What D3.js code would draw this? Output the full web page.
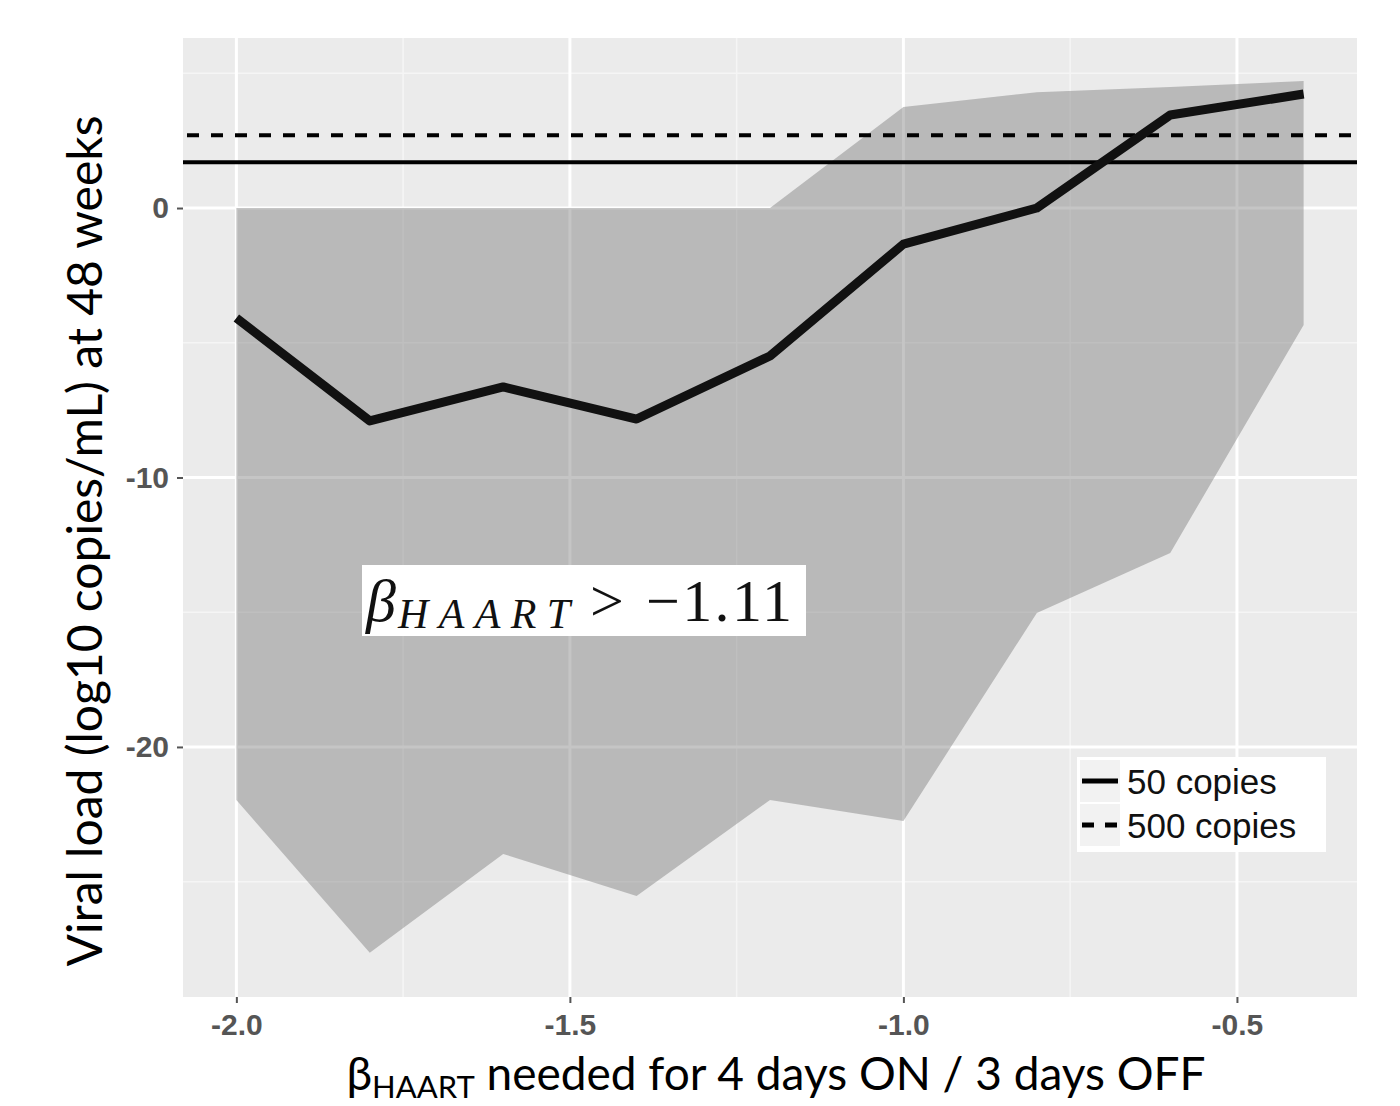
<!DOCTYPE html>
<html><head><meta charset="utf-8">
<script src="https://cdn.jsdelivr.net/npm/d3@7"></script>
<style>body{margin:0;background:#fff}</style>
</head><body>
<svg id="chart" width="1400" height="1106"></svg>
<script>
const betaValues = [-2.0, -1.8, -1.6, -1.4, -1.2, -1.0, -0.8, -0.6, -0.4];
const medianLoad = [-4.08, -7.9, -6.64, -7.83, -5.49, -1.34, 0.0, 3.45, 4.23];
const upperLoad  = [0, 0, 0, 0, 0, 3.75, 4.3, 4.49, 4.71];
const lowerLoad  = [-21.97, -27.64, -23.97, -25.53, -21.97, -22.75, -15.03, -12.8, -4.34];
const thresholdNames = ["50 copies", "500 copies"];
const thresholdValues = [Math.log10(50), Math.log10(500)];
const xTicks = [-2.0, -1.5, -1.0, -0.5];
const xMinor = [-1.75, -1.25, -0.75];
const yTicks = [0, -10, -20];
const yMinor = [5, -5, -15, -25];

const svg = d3.select("#chart");
const L = 183, R = 1357, T = 38, B = 997;
const x = d3.scaleLinear().domain([-2.08, -0.32]).range([L, R]);
const y = d3.scaleLinear().domain([-29.28, 6.31]).range([B, T]);

svg.append("rect").attr("x", L).attr("y", T).attr("width", R - L).attr("height", B - T).attr("fill", "#EBEBEB");
const g = svg.append("g");
g.selectAll(".ymin").data(yMinor).join("line").attr("x1", L).attr("x2", R)
  .attr("y1", d => y(d)).attr("y2", d => y(d)).attr("stroke", "#F5F5F5").attr("stroke-width", 1.5);
g.selectAll(".xmin").data(xMinor).join("line").attr("y1", T).attr("y2", B)
  .attr("x1", d => x(d)).attr("x2", d => x(d)).attr("stroke", "#F5F5F5").attr("stroke-width", 1.5);
g.selectAll(".ymaj").data(yTicks).join("line").attr("x1", L).attr("x2", R)
  .attr("y1", d => y(d)).attr("y2", d => y(d)).attr("stroke", "#fff").attr("stroke-width", 3);
g.selectAll(".xmaj").data(xTicks).join("line").attr("y1", T).attr("y2", B)
  .attr("x1", d => x(d)).attr("x2", d => x(d)).attr("stroke", "#fff").attr("stroke-width", 3);

const rib = betaValues.map((b, i) => ({b, lo: lowerLoad[i], hi: upperLoad[i], m: medianLoad[i]}));
svg.append("path").datum(rib)
  .attr("d", d3.area().x(d => x(d.b)).y0(d => y(d.lo)).y1(d => y(d.hi)))
  .attr("fill", "#6E6E6E").attr("fill-opacity", 0.4);

// threshold lines
svg.append("line").attr("x1", L).attr("x2", R).attr("y1", y(thresholdValues[0])).attr("y2", y(thresholdValues[0]))
  .attr("stroke", "#000").attr("stroke-width", 4);
svg.append("line").attr("x1", L).attr("x2", R).attr("y1", y(thresholdValues[1])).attr("y2", y(thresholdValues[1]))
  .attr("stroke", "#000").attr("stroke-width", 4).attr("stroke-dasharray", "12,12").attr("stroke-dashoffset", -4);

svg.append("path").datum(rib)
  .attr("d", d3.line().x(d => x(d.b)).y(d => y(d.m)))
  .attr("fill", "none").attr("stroke", "#111").attr("stroke-width", 9).attr("stroke-linejoin", "round");

// axes
const hy = f => d => f(d).replace("−", "-");
const yAxis = d3.axisLeft(y).tickValues(yTicks).tickFormat(hy(d3.format("d"))).tickSize(6).tickPadding(8);
const ya = svg.append("g").attr("transform", `translate(${L},0)`).call(yAxis);
const xAxis = d3.axisBottom(x).tickValues(xTicks).tickFormat(hy(d3.format(".1f"))).tickSize(6).tickPadding(8);
const xa = svg.append("g").attr("transform", `translate(0,${B})`).call(xAxis);
[ya, xa].forEach(a => {
  a.select(".domain").remove();
  a.selectAll(".tick line").attr("stroke", "#555").attr("stroke-width", 2);
  a.selectAll(".tick text").attr("fill", "#555").attr("font-family", "Liberation Sans, Arial, sans-serif")
    .attr("font-weight", "bold").attr("font-size", 30);
});
xa.selectAll(".tick text").attr("dy", "0.8em");

// annotation
const ann = svg.append("g");
ann.append("rect").attr("x", 362).attr("y", 565).attr("width", 444).attr("height", 71).attr("fill", "#fff");
const at = ann.append("text").attr("y", 621).attr("font-family", "Liberation Serif, DejaVu Serif, serif")
  .attr("font-size", 60).attr("fill", "#111");
at.append("tspan").attr("x", 366).attr("font-style", "italic").text("β");
at.append("tspan").attr("x", 398).attr("font-style", "italic").attr("font-size", 42).attr("dy", 7)
  .attr("textLength", 172).attr("lengthAdjust", "spacing").text("HAART");
at.append("tspan").attr("x", 590).attr("dy", -7).text(">");
at.append("tspan").attr("x", 646).attr("textLength", 146).attr("lengthAdjust", "spacing").text("−1.11");

// legend
const lg = svg.append("g");
lg.append("rect").attr("x", 1077).attr("y", 757).attr("width", 249).attr("height", 95).attr("fill", "#fff");
thresholdNames.forEach((n, i) => {
  const cy = 781 + i * 44;
  lg.append("rect").attr("x", 1080).attr("y", cy - 21).attr("width", 40).attr("height", 42).attr("fill", "#F2F2F2");
  lg.append("line").attr("x1", 1082).attr("x2", 1118).attr("y1", cy).attr("y2", cy)
    .attr("stroke", "#000").attr("stroke-width", 5).attr("stroke-dasharray", i ? "12,11" : null);
  lg.append("text").attr("x", 1127).attr("y", cy + 13).attr("font-family", "Liberation Sans, Arial, sans-serif")
    .attr("font-size", 35).attr("fill", "#111").text(n);
});

// titles
svg.append("text").attr("transform", "translate(102,541) rotate(-90)").attr("text-anchor", "middle")
  .attr("font-family", "Lato, Open Sans, sans-serif").attr("font-size", 48).attr("fill", "#000")
  .text("Viral load (log10 copies/mL) at 48 weeks");
const xt = svg.append("text").attr("x", 776).attr("y", 1090).attr("text-anchor", "middle")
  .attr("font-family", "Lato, Open Sans, sans-serif").attr("font-size", 46).attr("fill", "#000");
xt.append("tspan").text("β");
xt.append("tspan").attr("font-size", 31).attr("dy", 8).text("HAART");
xt.append("tspan").attr("dy", -8).text(" needed for 4 days ON / 3 days OFF");
</script>
</body></html>
